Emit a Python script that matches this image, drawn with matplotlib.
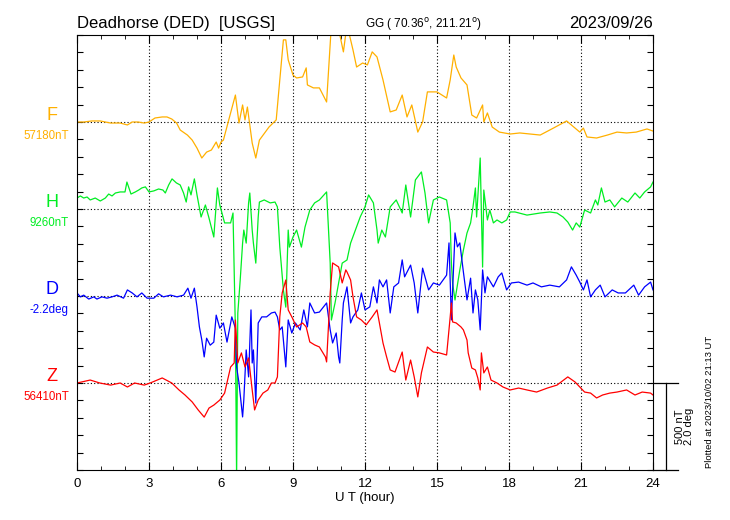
import matplotlib
matplotlib.use('Agg')
import matplotlib.pyplot as plt
import matplotlib.transforms as mtransforms
import numpy as np

plt.rcParams['font.family'] = ['Liberation Sans', 'DejaVu Sans']

# offsets of each trace (nT on the plot), 87 px = 500 nT = 2.0 deg
f_base, h_base, d_base, z_base = 2000, 1500, 1000, 500
deg_to_nt = 250.0

# F (total field), deviation from 57180 nT
f_hour = [0.0, 0.28, 0.62, 0.97, 1.4, 1.8, 2.1, 2.3, 2.55, 2.8, 3.0, 3.25, 3.55, 3.75, 3.95, 4.15, 4.3,
          4.6, 4.8, 5.0, 5.2, 5.4, 5.6,
          5.8, 5.9, 6.0, 6.1, 6.4, 6.6, 6.75, 6.9, 7.0, 7.1, 7.3, 7.45, 7.6, 8.0, 8.3, 8.45, 8.6, 8.7,
          8.8, 9.0, 9.15, 9.4, 9.55, 9.6, 9.85, 10.1, 10.4, 10.6, 10.8, 11.1, 11.25, 11.5, 11.65, 11.9,
          12.1, 12.3, 12.5, 12.75, 13.05, 13.3, 13.55, 13.75, 13.95, 14.2, 14.4, 14.6, 15.0, 15.4, 15.55,
          15.7, 15.8, 16.0, 16.25, 16.45, 16.65, 16.9, 16.95, 17.1, 17.3, 17.6, 18.05, 18.45, 19.3, 19.85,
          20.4, 20.7, 20.95, 21.1, 21.25, 21.65, 22.1, 22.5, 22.9, 23.3, 23.75, 24.0]
f_nt = [0, 0, 6, 6, -6, -6, -17, 0, 0, -6, 0, 23, 29, 29, 17, -6, -46,
        -75, -104, -150, -207, -173, -161,
        -115, -150, -115, -104, 52, 155, -6, 98, 12, 86, -121, -207, -104, -29, 12, 242, 472, 472,
        357, 270, 253, 259, 311, 213, 196, 196, 115, 560, 600, 403, 560, 414, 316, 339,
        328, 403, 374, 242, 58, 69, 155, 29, 98, -58, 0, 173, 173, 138, 242,
        385, 316, 253, 213, 40, 23, 98, 0, 52, -29, -58, -69, -63, -75, -35,
        6, -29, -58, -35, -86, -92, -75, -58, -63, -58, -40, -52]

# H, deviation from 9260 nT
h_hour = [0.0, 0.14, 0.28, 0.42, 0.55, 0.76, 0.97, 1.18, 1.32, 1.46, 1.6, 1.8, 2.0, 2.08, 2.15, 2.25,
          2.43, 2.57, 2.7, 2.85, 3.0, 3.2, 3.4, 3.58, 3.68, 3.82, 3.96, 4.14, 4.3, 4.44, 4.55, 4.65,
          4.75, 4.89, 5.0, 5.17, 5.35, 5.5, 5.7, 5.85, 5.95, 6.15, 6.4, 6.5, 6.6, 6.65, 6.7, 6.8, 6.9,
          6.95, 7.05, 7.15, 7.2, 7.3, 7.35, 7.45, 7.55, 7.6, 7.8, 8.05, 8.25, 8.35, 8.45, 8.6, 8.7, 8.8,
          8.85, 9.0, 9.15, 9.35, 9.5, 9.7, 9.9, 10.1, 10.4, 10.55, 10.6, 10.75, 10.9, 11.05, 11.25, 11.4,
          11.6, 11.8, 12.0, 12.15, 12.35, 12.5, 12.55, 12.7, 12.85, 13.05, 13.3, 13.55, 13.7, 13.9, 14.1,
          14.35, 14.5, 14.65, 14.85, 15.1, 15.4, 15.55, 15.6, 15.65, 15.75, 15.95, 16.1, 16.25, 16.4,
          16.5, 16.6, 16.65, 16.7, 16.8, 16.9, 16.95, 17.1, 17.2, 17.35, 17.5, 17.7, 17.9, 18.05, 18.25,
          18.75, 19.3, 19.7, 20.0, 20.25, 20.45, 20.65, 20.8, 20.95, 21.15, 21.4, 21.6, 21.7, 21.85, 22.0,
          22.2, 22.4, 22.7, 22.95, 23.25, 23.45, 23.65, 23.9, 24.0]
h_nt = [63, 75, 63, 69, 52, 63, 46, 63, 86, 75, 92, 98, 98, 155, 127, 86,
        98, 109, 121, 127, 98, 104, 115, 109, 92, 138, 173, 150, 138, 92, 40, 127,
        81, 173, 81, -46, 23, -52, -161, 121, 23, -80, -80, -23, -696, -1550, -598, -408, -196,
        -121, -196, 35, 92, -121, -196, -311, -46, 40, 52, 35, 40, 12, -219, -466, -564, -121,
        -219, -161, -121, -219, -104, -6, 35, 52, 98, -311, -638, -541, -426, -311, -293, -196,
        -121, -46, 12, 81, 35, -121, -196, -121, -161, 12, 52, -23, 138, -46, 167,
        213, 92, -80, 52, 69, 52, -80, -311, -426, -523, -351, -236, -138, -80,
        12, 121, -46, 69, 293, -334, 109, -63, -6, -80, -63, -80, -63, -17, -17,
        -35, -23, -17, -23, -46, -75, -121, -80, -104, -6, -23, 52, 23, 121, 40,
        52, 12, 63, 40, 92, 63, 98, 127, 155]

# D, deviation from -2.2 deg
d_hour = [0.0, 0.14, 0.28, 0.49, 0.7, 0.83, 1.04, 1.25, 1.46, 1.67, 1.94, 2.1, 2.3, 2.5, 2.7, 2.92,
          3.2, 3.4, 3.6, 3.9, 4.17, 4.44, 4.62, 4.75, 4.89, 5.0,
          5.1, 5.2, 5.3, 5.4, 5.55, 5.7, 5.8, 5.95, 6.1, 6.25, 6.45, 6.6, 6.65, 6.75, 6.9, 6.95, 7.05,
          7.15, 7.25, 7.3, 7.35, 7.45, 7.55, 7.7, 7.9, 8.1, 8.25, 8.35, 8.45, 8.55, 8.7, 8.8, 8.95, 9.1,
          9.3, 9.45, 9.6, 9.7, 9.9, 10.1, 10.4, 10.55, 10.65, 10.8, 10.9, 10.95, 11.05, 11.1, 11.25, 11.4,
          11.5, 11.7, 11.85, 12.0, 12.2, 12.35, 12.5, 12.6, 12.75, 12.9, 13.05, 13.2, 13.4, 13.55, 13.65,
          13.9, 14.05, 14.2, 14.4, 14.65, 14.85, 15.1, 15.4, 15.5, 15.6, 15.75, 15.85, 15.95, 16.1, 16.25,
          16.4, 16.5, 16.6, 16.7, 16.8, 16.9, 17.0, 17.1, 17.35, 17.55, 17.7, 17.9, 18.1, 18.4, 18.75,
          19.0, 19.35, 19.7, 20.1, 20.4, 20.6, 20.8, 20.95, 21.1, 21.25, 21.4, 21.6, 21.8, 22.0, 22.3,
          22.55, 22.85, 23.2, 23.4, 23.65, 23.9, 24.0]
d_deg = [0.07, -0.02, 0.02, -0.07, -0.02, -0.07, -0.02, -0.05, -0.02, 0.02, -0.05, 0.14, 0.07, -0.02, 0.07, -0.05,
         -0.05, 0.05, -0.02, 0.02, -0.02, 0.02, 0.18, -0.05, 0.18, -0.25,
         -0.71, -1.01, -1.40, -0.97, -1.13, -1.06, -0.44, -0.74, -0.62, -1.06, -0.48, -0.74, -1.63, -2.00, -2.78, -2.39, -1.24,
         -1.86, -0.32, -1.54, -1.24, -2.46, -0.62, -0.48, -0.48, -0.39, -0.37, -0.48, -0.78, -0.71, -1.63, -0.55, -0.85, -0.62,
         -0.78, -0.32, -0.71, -0.16, -0.39, -0.37, -0.16, -0.78, -1.08, -0.85, -1.40, -1.54, -0.55, -0.16, 0.21, -0.62,
         -0.48, -0.32, 0.07, -0.32, -0.25, 0.21, -0.16, 0.37, 0.21, 0.37, -0.39, 0.21, 0.30, 0.83, 0.44,
         0.71, 0.30, -0.39, 0.64, 0.14, 0.30, 0.25, 0.48, 1.22, -0.55, 1.45, 1.13, 1.22, 0.55, -0.09,
         0.41, -0.39, 0.14, -0.09, -0.78, 0.60, 0.07, 0.44, 0.21, 0.44, 0.53, 0.14, 0.30, 0.32, 0.25,
         0.30, 0.21, 0.25, 0.21, 0.37, 0.67, 0.48, 0.32, 0.14, 0.37, -0.02, 0.14, 0.25, -0.02, 0.14,
         0.07, 0.07, 0.25, 0.02, 0.21, 0.32, 0.14]

# Z, deviation from 56410 nT
z_hour = [0.0, 0.55, 0.95, 1.4, 1.8, 2.1, 2.4, 2.8, 3.05, 3.55, 3.95, 4.25, 4.5, 4.8, 5.05, 5.3, 5.5,
          5.7, 5.95, 6.15, 6.4, 6.55, 6.6, 6.7, 6.85, 7.0, 7.15, 7.3, 7.4, 7.55, 7.75, 7.95, 8.1, 8.25,
          8.35, 8.45, 8.55, 8.7, 8.8, 8.95, 9.15, 9.4, 9.55, 9.7, 9.9, 10.1, 10.35, 10.4, 10.55, 10.65,
          10.9, 11.05, 11.2, 11.25, 11.4, 11.5, 11.65, 11.85, 12.05, 12.3, 12.5, 12.6, 12.75, 12.9, 13.05,
          13.25, 13.55, 13.7, 13.9, 14.05, 14.2, 14.35, 14.6, 14.85, 15.1, 15.4, 15.55, 15.6, 15.65, 15.8,
          16.0, 16.1, 16.25, 16.3, 16.45, 16.6, 16.7, 16.8, 16.85, 16.95, 17.1, 17.25, 17.5, 17.75, 18.05,
          18.4, 18.75, 19.15, 19.6, 20.0, 20.45, 20.75, 20.95, 21.15, 21.4, 21.65, 21.9, 22.2, 22.5, 22.9,
          23.25, 23.55, 23.9, 24.0]
z_nt = [0, 17, 0, -12, 0, -23, 0, -12, 0, 29, 0, -40, -69, -109, -155, -196, -144,
        -127, -98, -58, 92, 115, 362, 115, 173, 92, 144, -40, -155, -98, -58, -40, 0, 0,
        35, 380, 518, 592, 420, 380, 322, 345, 322, 236, 219, 207, 150, 121, 518, 690,
        667, 575, 650, 638, 592, 495, 380, 362, 334, 380, 420, 345, 230, 150, 75,
        63, 178, 17, 132, 35, -80, 58, 207, 178, 173, 161, 380, 460, 351, 345,
        322, 305, 247, 173, 86, 75, 29, -40, 173, 58, 92, 17, 0, -23, -40,
        -29, -40, -52, -29, -12, 35, 6, -23, -52, -58, -86, -69, -58, -52, -40,
        -69, -52, -58, -69]

trace_names = ['F', 'H', 'D', 'Z']
trace_levels = ['57180nT', '9260nT', '-2.2deg', '56410nT']
trace_colors = ['#FFB000', '#00EE22', '#0000FF', '#FF0000']

fig = plt.figure(figsize=(7.3, 5.2), dpi=100)
ax = fig.add_axes([77 / 730, 50 / 520, 576 / 730, 435 / 520])

bases = [f_base, h_base, d_base, z_base]
series = [(f_hour, np.array(f_nt)), (h_hour, np.array(h_nt)),
          (d_hour, np.array(d_deg) * deg_to_nt), (z_hour, np.array(z_nt))]
for (hx, vy), b, c in zip(series, bases, trace_colors):
    ax.plot(hx, vy + b, color=c, lw=0.9)

ax.set_xlim(0, 24)
ax.set_ylim(0, 2500)
ax.set_xticks(range(0, 25, 3))
ax.set_xticks(range(0, 25, 1), minor=True)
ax.set_yticks(range(0, 2501, 100))
ax.set_yticklabels([])
ax.tick_params(axis='both', which='both', direction='in', top=True, right=True)
ax.tick_params(axis='x', which='major', length=6, labelsize=9.5, pad=6)
ax.tick_params(axis='x', which='minor', length=3)
ax.tick_params(axis='y', length=4)
ax.set_xlabel('U T (hour)', fontsize=9.5, labelpad=1)

# dotted grid at 3-hour marks and at each trace base line
for hr in range(3, 24, 3):
    ax.axvline(hr, color='k', ls=(0, (1, 2)), lw=0.8, zorder=0)
for b in bases:
    ax.axhline(b, color='k', ls=(0, (1, 2)), lw=0.8, zorder=0)

# trace names on the left
blend = mtransforms.blended_transform_factory(ax.transAxes, ax.transData)
for name, lev, b, c in zip(trace_names, trace_levels, bases, trace_colors):
    ax.text(-0.0434, b + 40, name, color=c, fontsize=13, ha='center', va='center', transform=blend)
    ax.text(-0.0139, b - 80, lev, color=c, fontsize=8.3, ha='right', va='center', transform=blend)

# scale bar on the right
ax.plot([1.0226, 1.0226], [0, 500], color='k', lw=0.9, transform=blend, clip_on=False)
ax.plot([1.0, 1.0434], [500, 500], color='k', lw=0.9, transform=blend, clip_on=False)
ax.plot([1.0, 1.0434], [0, 0], color='k', lw=0.9, transform=blend, clip_on=False)
ax.text(1.054, 250, '500 nT\n2.0 deg', rotation=90, fontsize=8, ha='center', va='center',
        linespacing=0.9, transform=blend)

fig.text(77 / 730, 1 - 28 / 520, 'Deadhorse (DED)  [USGS]', fontsize=12, va='baseline')
fig.text(423 / 730, 1 - 28 / 520, 'GG ( 70.36$^{\\rm o}$, 211.21$^{\\rm o}$)', fontsize=8.5,
         ha='center', va='baseline')
fig.text(653 / 730, 1 - 28 / 520, '2023/09/26', fontsize=12, ha='right', va='baseline')
fig.text(710 / 730, 1 - 468 / 520, 'Plotted at 2023/10/02 21:13 UT', fontsize=6.8,
         rotation=90, ha='center', va='bottom')

plt.savefig('out.png')
